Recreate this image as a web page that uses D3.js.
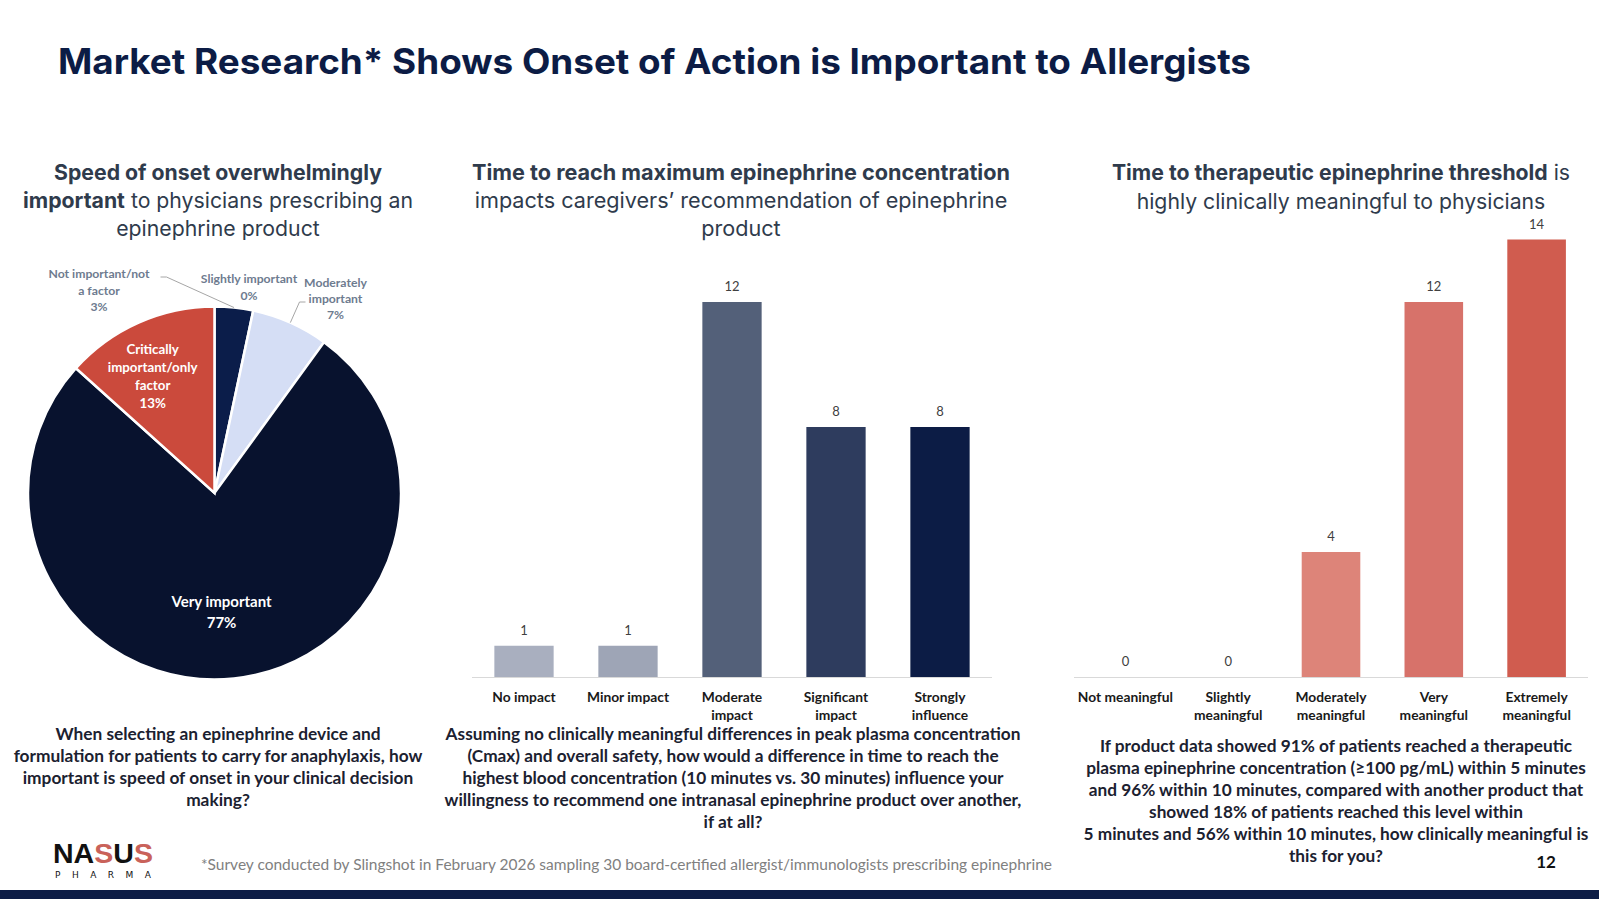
<!DOCTYPE html>
<html>
<head>
<meta charset="utf-8">
<script src="https://cdn.jsdelivr.net/npm/d3@7"></script>
<style>
  html, body { margin: 0; padding: 0; background: #fff; }
  svg { display: block; }
</style>
</head>
<body>
<div id="slide"></div>
<script>
// slide size
var width = 1599;
var height = 899;

// pie data (30 respondents)
const pieNames = ["Not important/not a factor", "Slightly important", "Moderately important", "Very important", "Critically important/only factor"];
const pieCounts = [1, 0, 2, 23, 4];
const piePct = ["3%", "0%", "7%", "77%", "13%"];
const pieColors = ["#0b1d4a", "#0b1d4a", "#d5def5", "#08122e", "#cb4a3c"];

// middle bars
const impactCats = ["No impact", "Minor impact", "Moderate impact", "Significant impact", "Strongly influence"];
const impactLines = [["No impact"], ["Minor impact"], ["Moderate", "impact"], ["Significant", "impact"], ["Strongly", "influence"]];
const impactVals = [1, 1, 12, 8, 8];
const impactColors = ["#a9afbf", "#9ea5b6", "#536079", "#2e3c5e", "#0c1c45"];

// right bars
const meaningCats = ["Not meaningful", "Slightly meaningful", "Moderately meaningful", "Very meaningful", "Extremely meaningful"];
const meaningLines = [["Not meaningful"], ["Slightly", "meaningful"], ["Moderately", "meaningful"], ["Very", "meaningful"], ["Extremely", "meaningful"]];
const meaningVals = [0, 0, 4, 12, 14];
const meaningColors = ["#dd8479", "#dd8479", "#dd8479", "#d7726a", "#d05c4f"];

const navy = "#0c1c45";
const headColor = "#2f3b4c";
const qColor = "#1b2130";

const svg = d3.select("#slide")
  .append("svg")
  .attr("width", width)
  .attr("height", height);

// one text element per line, segments = [text, weight]
function textLines(x, ys, lines, font, size, color, target) {
  const els = lines.map(function(ln, i) {
    const segs = Array.isArray(ln) ? ln : [[ln, 700]];
    const t = svg.append("text")
      .attr("x", x).attr("y", ys[i])
      .attr("text-anchor", "middle")
      .style("font-family", font)
      .style("font-size", size + "px")
      .attr("fill", color);
    segs.forEach(function(s) { t.append("tspan").attr("font-weight", s[1]).text(s[0]); });
    return t;
  });
  // scale font so the reference line gets the target width
  if (target) {
    const w = els[target[0]].node().getComputedTextLength();
    const ns = size * target[1] / w;
    els.forEach(function(t) { t.style("font-size", ns + "px"); });
  }
  return els;
}

// title
svg.append("text")
  .attr("x", 58).attr("y", 74)
  .style("font-family", "Inter")
  .style("font-weight", 700)
  .style("font-size", "35px")
  .attr("fill", navy)
  .attr("textLength", 1193)
  .attr("lengthAdjust", "spacingAndGlyphs")
  .text("Market Research* Shows Onset of Action is Important to Allergists");

// panel headings
textLines(218, [180, 208, 236], [
  [["Speed of onset overwhelmingly", 700]],
  [["important", 700], [" to physicians prescribing an", 400]],
  [["epinephrine product", 400]]
], "Inter", 20, headColor, [1, 390]);

textLines(741, [180, 208, 236], [
  [["Time to reach maximum epinephrine concentration", 700]],
  [["impacts caregivers\u2019 recommendation of epinephrine", 400]],
  [["product", 400]]
], "Inter", 20, headColor, [0, 538]);

textLines(1341, [180, 209], [
  [["Time to therapeutic epinephrine threshold", 700], [" is", 400]],
  [["highly clinically meaningful to physicians", 400]]
], "Inter", 20, headColor, [1, 409]);

// ---------- pie ----------
const cx = 214.5, cy = 493, R = 186.5;
const pie = d3.pie().sort(null).value(function(d) { return d; });
const arcs = pie(pieCounts);
const arc = d3.arc().innerRadius(0).outerRadius(R);
const gPie = svg.append("g").attr("transform", "translate(" + cx + "," + cy + ")");

gPie.selectAll("path")
  .data(arcs)
  .enter()
  .append("path")
  .attr("d", arc)
  .attr("fill", function(d, i) { return pieColors[i]; })
  .attr("stroke", "#fff")
  .attr("stroke-width", function(d) { return d.value > 0 ? 2.5 : 0; });

// inside labels
const labelArc = d3.arc().innerRadius(R * 0.67).outerRadius(R * 0.67);
const cCrit = labelArc.centroid(arcs[4]);
textLines(cx + cCrit[0] - 11, [cy + cCrit[1] - 25, cy + cCrit[1] - 7, cy + cCrit[1] + 11, cy + cCrit[1] + 29],
  ["Critically", "important/only", "factor", piePct[4]], "Lato", 13.3, "#fff");
const cVery = labelArc.centroid(arcs[3]);
textLines(cx + cVery[0] - 6, [cy + cVery[1] - 10, cy + cVery[1] + 11],
  ["Very important", piePct[3]], "Lato", 15, "#fff");

// outside labels with leader lines
const pieLabColor = "#6e7b8f";
function edge(d) {
  const a = (d.startAngle + d.endAngle) / 2;
  return [cx + R * Math.sin(a), cy - R * Math.cos(a)];
}
textLines(cx - 115.5, [cy - 215, cy - 198, cy - 182], ["Not important/not", "a factor", piePct[0]], "Lato", 12.2, pieLabColor);
textLines(cx + 34.5, [cy - 210, cy - 193], ["Slightly important", piePct[1]], "Lato", 12.2, pieLabColor);
textLines(cx + 121, [cy - 206, cy - 190, cy - 174], ["Moderately", "important", piePct[2]], "Lato", 12.2, pieLabColor);

const e0 = edge(arcs[0]);
const e2 = edge(arcs[2]);
const line = d3.line();
svg.append("path")
  .attr("d", line([[cx - 54, cy - 216], [cx - 48, cy - 216], e0]))
  .attr("fill", "none").attr("stroke", "#a6a6a6").attr("stroke-width", 1);
svg.append("path")
  .attr("d", line([[cx + 91, cy - 191], [cx + 85, cy - 191], e2]))
  .attr("fill", "none").attr("stroke", "#a6a6a6").attr("stroke-width", 1);

// ---------- bar charts ----------
const baseY = 677;
const y = d3.scaleLinear().domain([0, 12]).range([baseY, baseY - 375]);

function barChart(x0, x1, cats, lines, vals, colors) {
  const x = d3.scaleBand().domain(cats).range([x0, x1]).paddingInner(0.43).paddingOuter(0.215);
  const g = svg.append("g");
  g.append("line")
    .attr("x1", x0).attr("x2", x1)
    .attr("y1", baseY + 0.5).attr("y2", baseY + 0.5)
    .attr("stroke", "#d9d9d9").attr("stroke-width", 1.2);
  g.selectAll("rect")
    .data(vals)
    .enter()
    .append("rect")
    .attr("x", function(d, i) { return x(cats[i]); })
    .attr("width", x.bandwidth())
    .attr("y", function(d) { return y(d); })
    .attr("height", function(d) { return baseY - y(d); })
    .attr("fill", function(d, i) { return colors[i]; });
  g.selectAll("text.val")
    .data(vals)
    .enter()
    .append("text")
    .attr("class", "val")
    .attr("x", function(d, i) { return x(cats[i]) + x.bandwidth() / 2; })
    .attr("y", function(d) { return y(d) - 11; })
    .attr("text-anchor", "middle")
    .style("font-family", "Lato")
    .style("font-size", "13px")
    .attr("fill", "#404040")
    .text(function(d) { return d; });
  cats.forEach(function(c, i) {
    textLines(x(c) + x.bandwidth() / 2, [baseY + 24.5, baseY + 42.5], lines[i], "Lato", 13.8, "#1a1a1a");
  });
}

barChart(472, 992, impactCats, impactLines, impactVals, impactColors);
barChart(1074, 1588, meaningCats, meaningLines, meaningVals, meaningColors);

// ---------- questions ----------
textLines(218, [740, 762, 784, 806], [
  "When selecting an epinephrine device and",
  "formulation for patients to carry for anaphylaxis, how",
  "important is speed of onset in your clinical decision",
  "making?"
], "Lato", 14.5, qColor, [1, 409]);

textLines(733, [740, 762, 784, 806, 828], [
  "Assuming no clinically meaningful differences in peak plasma concentration",
  "(Cmax) and overall safety, how would a difference in time to reach the",
  "highest blood concentration (10 minutes vs. 30 minutes) influence your",
  "willingness to recommend one intranasal epinephrine product over another,",
  "if at all?"
], "Lato", 14.5, qColor, [0, 575]);

textLines(1336, [752, 774, 796, 818, 840, 862], [
  "If product data showed 91% of patients reached a therapeutic",
  "plasma epinephrine concentration (\u2265100 pg/mL) within 5 minutes",
  "and 96% within 10 minutes, compared with another product that",
  "showed 18% of patients reached this level within",
  "5 minutes and 56% within 10 minutes, how clinically meaningful is",
  "this for you?"
], "Lato", 14.5, qColor, [4, 505]);

// ---------- footer ----------
svg.append("text")
  .attr("x", 201).attr("y", 870)
  .style("font-family", "Lato")
  .style("font-size", "15.5px")
  .attr("fill", "#808080")
  .attr("textLength", 851)
  .attr("lengthAdjust", "spacingAndGlyphs")
  .text("*Survey conducted by Slingshot in February 2026 sampling 30 board-certified allergist/immunologists prescribing epinephrine");

svg.append("text")
  .attr("x", 1546).attr("y", 868)
  .attr("text-anchor", "middle")
  .style("font-family", "Lato")
  .style("font-weight", 700)
  .style("font-size", "17px")
  .attr("fill", "#111")
  .text("12");

// logo
const logo = svg.append("text")
  .attr("x", 53).attr("y", 863)
  .style("font-family", "Liberation Sans")
  .style("font-weight", 700)
  .style("font-size", "28px")
  .attr("textLength", 100)
  .attr("lengthAdjust", "spacingAndGlyphs");
[["NA", "#111"], ["S", "#c9625a"], ["U", "#111"], ["S", "#c9625a"]].forEach(function(p) {
  logo.append("tspan").attr("fill", p[1]).text(p[0]);
});
svg.append("text")
  .attr("x", 55).attr("y", 878)
  .style("font-family", "DejaVu Sans")
  .style("font-size", "9px")
  .attr("fill", "#111")
  .attr("textLength", 96)
  .text("PHARMA");

// bottom band
svg.append("rect")
  .attr("x", 0).attr("y", 890)
  .attr("width", width).attr("height", 9)
  .attr("fill", navy);
</script>
</body>
</html>
